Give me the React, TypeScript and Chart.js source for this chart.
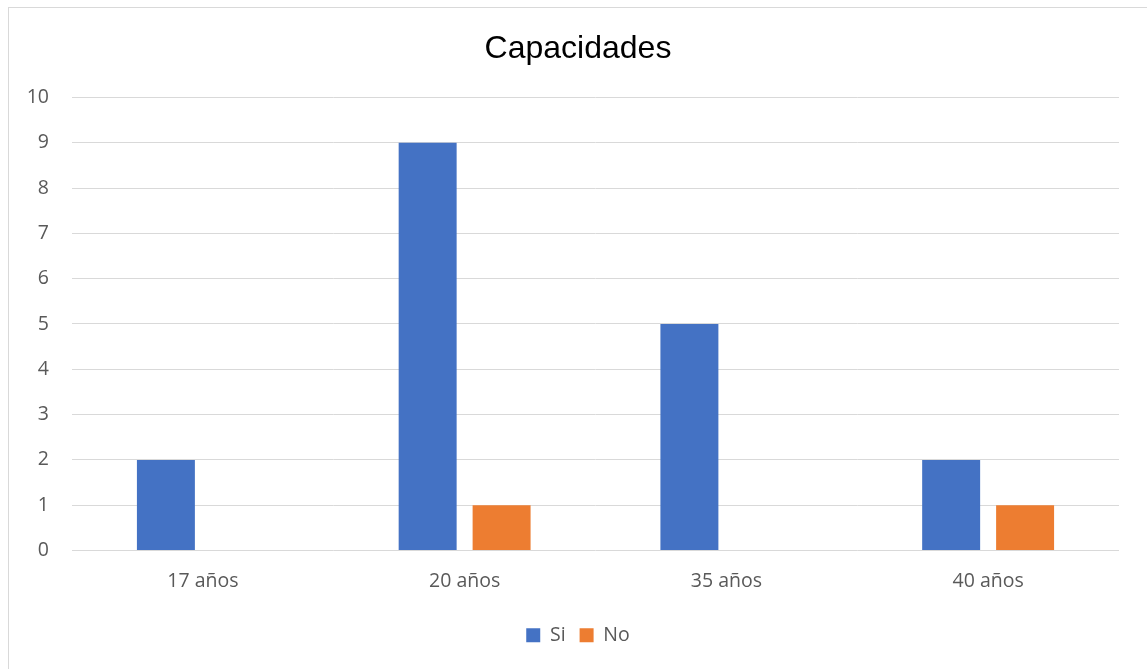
import React, { useEffect, useRef } from "react";
import { Chart, registerables } from "chart.js";

Chart.register(...registerables);

const categories = ["17 años", "20 años", "35 años", "40 años"];
const siValues = [2, 9, 5, 2];
const noValues = [0, 1, 0, 1];
const seriesNames = ["Si", "No"];
const titleText = "Capacidades";

export default function App() {
  const ref = useRef<HTMLCanvasElement | null>(null);

  useEffect(() => {
    if (!ref.current) return;
    const chart = new Chart(ref.current, {
      type: "bar",
      data: {
        labels: categories,
        datasets: [
          {
            label: seriesNames[0],
            data: siValues,
            backgroundColor: "#4472C4",
            categoryPercentage: 0.565,
            barPercentage: 0.784,
          },
          {
            label: seriesNames[1],
            data: noValues,
            backgroundColor: "#ED7D31",
            categoryPercentage: 0.565,
            barPercentage: 0.784,
          },
        ],
      },
      options: {
        animation: false,
        responsive: false,
        maintainAspectRatio: false,
        layout: { padding: { left: 19, right: 19, top: 0, bottom: 14 } },
        plugins: {
          title: {
            display: true,
            text: titleText,
            color: "#000000",
            font: { family: "'Liberation Sans', Arial, sans-serif", size: 32, weight: "normal", lineHeight: 1.2 },
            padding: { top: 22, bottom: 29 },
          },
          legend: {
            position: "bottom",
            labels: {
              boxWidth: 14,
              boxHeight: 14,
              padding: 14,
              color: "#595959",
              font: { family: "'Open Sans', sans-serif", size: 19.5 },
            },
          },
          tooltip: { enabled: false },
        },
        scales: {
          x: {
            grid: { display: false, drawTicks: false },
            border: { display: false },
            ticks: {
              color: "#595959",
              padding: 19,
              font: { family: "'Open Sans', sans-serif", size: 19.5 },
            },
            afterFit: (s: any) => {
              s.height = 61;
            },
          },
          y: {
            min: 0,
            max: 10,
            grid: { color: "#d9d9d9", lineWidth: 1, drawTicks: false },
            border: { display: false },
            ticks: {
              stepSize: 1,
              color: "#595959",
              padding: 23,
              font: { family: "'Open Sans', sans-serif", size: 19.5 },
            },
            afterFit: (s: any) => {
              s.width = 44;
            },
          },
          yRight: {
            position: "right",
            display: true,
            grid: { display: false, drawTicks: false },
            border: { display: false },
            ticks: { display: false },
            afterFit: (s: any) => {
              s.width = 9;
            },
          },
        },
      },
    });
    return () => chart.destroy();
  }, []);

  return (
    <div
      style={{
        position: "fixed",
        left: 8,
        top: 7,
        width: 1160,
        height: 680,
        borderLeft: "1px solid #d9d9d9",
        borderTop: "1px solid #d9d9d9",
        boxSizing: "border-box",
        background: "#fff",
      }}
    >
      <canvas ref={ref} width={1138} height={661} style={{ display: "block" }} />
    </div>
  );
}
